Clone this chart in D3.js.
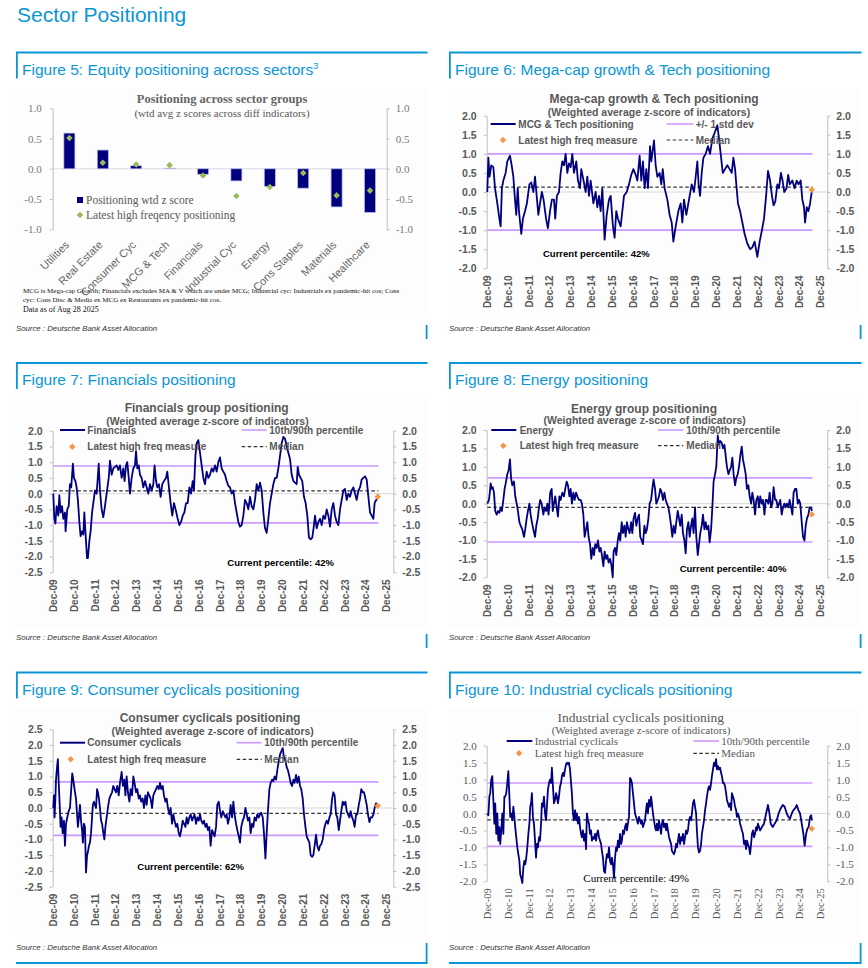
<!DOCTYPE html>
<html><head><meta charset="utf-8">
<script src="https://cdn.jsdelivr.net/npm/d3@7"></script>
<style>body{margin:0;background:#fff}svg{display:block}</style>
</head><body>
<svg id="c" width="868" height="968"></svg>
<script>
// ---------------- DATA ----------------
const sectorCats = ['Utilities','Real Estate','Consumer Cyc','MCG & Tech','Financials','Industrial Cyc','Energy','Cons Staples','Materials','Healthcare'];
const sectorZ  = [0.59, 0.31, 0.05, 0.01, -0.09, -0.20, -0.29, -0.32, -0.63, -0.72];
const sectorHF = [0.51, 0.10, 0.07, 0.06, -0.11, -0.45, -0.30, -0.07, -0.44, -0.36];
const fig5Ticks = [-1.0, -0.5, 0.0, 0.5, 1.0];

const yearTicks  = [2009.92,2010.92,2011.92,2012.92,2013.92,2014.92,2015.92,2016.92,2017.92,2018.92,2019.92,2020.92,2021.92,2022.92,2023.92,2024.92,2025.92];
const yearLabels = ['Dec-09','Dec-10','Dec-11','Dec-12','Dec-13','Dec-14','Dec-15','Dec-16','Dec-17','Dec-18','Dec-19','Dec-20','Dec-21','Dec-22','Dec-23','Dec-24','Dec-25'];

// [decimal year, weighted z-score]
const mcgTech = [[2009.92,0.0],[2009.97,0.9],[2010.03,0.4],[2010.11,0.7],[2010.21,0.65],[2010.29,0.1],[2010.40,-0.3],[2010.50,-0.7],[2010.56,-0.9],[2010.62,0.1],[2010.69,0.3],[2010.80,0.5],[2010.88,0.8],[2011.01,0.95],[2011.09,0.7],[2011.17,0.4],[2011.25,-0.2],[2011.31,-0.6],[2011.38,0.1],[2011.44,-0.5],[2011.55,-1.1],[2011.63,-0.7],[2011.73,-0.5],[2011.82,-0.3],[2011.94,0.2],[2012.03,0.25],[2012.13,0.0],[2012.21,0.4],[2012.29,-0.1],[2012.37,-0.6],[2012.45,-0.3],[2012.54,0.0],[2012.62,-0.2],[2012.74,-0.7],[2012.83,-0.95],[2012.93,-0.5],[2013.02,-0.2],[2013.12,-0.2],[2013.18,-0.7],[2013.26,-0.1],[2013.36,0.0],[2013.44,0.5],[2013.52,0.8],[2013.60,0.7],[2013.68,1.0],[2013.76,0.5],[2013.84,0.75],[2013.92,0.65],[2014.00,1.0],[2014.08,0.5],[2014.19,0.8],[2014.27,0.3],[2014.37,0.1],[2014.43,0.6],[2014.54,0.3],[2014.64,0.0],[2014.72,0.4],[2014.80,-0.1],[2014.88,0.3],[2015.01,-0.3],[2015.12,0.0],[2015.20,-0.4],[2015.28,-0.1],[2015.36,-0.5],[2015.44,0.1],[2015.55,-1.25],[2015.65,-0.6],[2015.76,-0.2],[2015.84,-0.1],[2015.95,-0.9],[2016.03,-1.2],[2016.11,-0.5],[2016.19,-0.7],[2016.32,-0.9],[2016.40,-0.5],[2016.48,-0.1],[2016.61,0.0],[2016.72,0.2],[2016.83,0.45],[2016.93,0.6],[2017.04,0.45],[2017.12,0.3],[2017.23,0.95],[2017.31,0.3],[2017.39,0.8],[2017.47,0.1],[2017.55,0.6],[2017.63,0.1],[2017.73,1.2],[2017.79,0.8],[2017.92,1.35],[2018.00,0.7],[2018.08,0.4],[2018.19,0.5],[2018.27,0.2],[2018.34,0.6],[2018.43,0.1],[2018.56,-0.2],[2018.67,-0.6],[2018.77,-0.8],[2018.85,-1.3],[2018.96,-0.9],[2019.09,-0.5],[2019.20,-0.3],[2019.28,-0.8],[2019.36,-0.2],[2019.47,-0.6],[2019.60,-0.2],[2019.73,0.2],[2019.84,0.0],[2019.92,0.4],[2020.00,0.8],[2020.06,0.2],[2020.13,-0.1],[2020.21,0.5],[2020.29,0.9],[2020.40,1.0],[2020.51,1.2],[2020.61,1.0],[2020.72,1.4],[2020.83,1.55],[2020.96,1.75],[2021.04,1.4],[2021.12,1.0],[2021.22,0.5],[2021.33,0.6],[2021.44,0.7],[2021.55,0.6],[2021.65,0.5],[2021.73,0.9],[2021.81,0.6],[2021.87,0.2],[2021.95,-0.3],[2022.05,-0.5],[2022.16,-0.8],[2022.27,-1.1],[2022.40,-1.35],[2022.53,-1.5],[2022.64,-1.45],[2022.75,-1.3],[2022.88,-1.7],[2022.99,-1.3],[2023.10,-1.0],[2023.20,-0.7],[2023.30,-0.1],[2023.39,0.55],[2023.49,0.3],[2023.58,-0.1],[2023.66,-0.35],[2023.74,-0.25],[2023.84,0.2],[2023.92,0.1],[2024.01,0.5],[2024.09,0.3],[2024.17,0.0],[2024.28,0.1],[2024.36,0.45],[2024.44,0.2],[2024.56,0.3],[2024.67,0.1],[2024.77,0.3],[2024.86,0.2],[2024.96,0.3],[2025.04,-0.2],[2025.12,-0.4],[2025.17,-0.8],[2025.25,-0.4],[2025.33,-0.5],[2025.41,-0.3],[2025.50,0.05]];

const financials = [[2009.92,0.0],[2009.97,-0.8],[2010.02,-0.95],[2010.08,-0.4],[2010.16,-0.7],[2010.21,-0.05],[2010.27,-0.6],[2010.34,-0.4],[2010.40,-0.8],[2010.48,-0.6],[2010.51,-1.2],[2010.59,-0.5],[2010.66,-0.4],[2010.72,0.3],[2010.78,0.2],[2010.86,0.95],[2010.91,0.5],[2010.98,0.4],[2011.04,0.2],[2011.10,-0.2],[2011.17,-0.9],[2011.23,-1.35],[2011.30,-1.2],[2011.36,-1.3],[2011.41,-0.6],[2011.46,-1.2],[2011.54,-2.05],[2011.58,-2.05],[2011.65,-1.5],[2011.71,-1.2],[2011.78,-0.6],[2011.84,-0.3],[2011.92,0.1],[2012.00,0.0],[2012.10,0.95],[2012.16,0.1],[2012.24,-0.5],[2012.32,-0.75],[2012.40,-0.4],[2012.48,0.0],[2012.58,0.5],[2012.64,1.05],[2012.72,0.6],[2012.80,0.8],[2012.88,0.85],[2012.96,0.9],[2013.04,0.75],[2013.12,0.9],[2013.20,0.5],[2013.28,0.8],[2013.34,0.4],[2013.41,0.9],[2013.47,1.0],[2013.54,0.5],[2013.60,0.0],[2013.68,0.5],[2013.76,0.8],[2013.84,0.9],[2013.89,1.35],[2013.95,0.8],[2014.02,0.9],[2014.08,0.6],[2014.16,0.5],[2014.24,0.2],[2014.32,0.4],[2014.40,0.2],[2014.48,0.0],[2014.56,0.3],[2014.64,0.1],[2014.72,0.3],[2014.78,0.9],[2014.85,0.4],[2014.91,0.2],[2014.99,0.3],[2015.07,-0.1],[2015.15,0.3],[2015.23,0.4],[2015.33,0.5],[2015.39,0.7],[2015.47,0.2],[2015.55,-0.3],[2015.63,-0.7],[2015.71,-0.3],[2015.79,-0.5],[2015.89,-0.8],[2015.97,-1.0],[2016.05,-0.9],[2016.13,-0.7],[2016.21,-0.6],[2016.29,-0.3],[2016.37,-0.3],[2016.45,0.2],[2016.53,0.0],[2016.61,0.4],[2016.67,0.1],[2016.74,1.2],[2016.80,1.6],[2016.88,1.7],[2016.96,1.3],[2017.04,0.9],[2017.12,0.5],[2017.20,0.3],[2017.28,0.7],[2017.36,0.5],[2017.44,0.6],[2017.52,0.8],[2017.60,0.7],[2017.68,0.9],[2017.76,0.7],[2017.84,1.0],[2017.92,1.15],[2018.00,0.8],[2018.08,0.7],[2018.16,0.6],[2018.24,0.4],[2018.32,0.25],[2018.40,0.2],[2018.48,0.0],[2018.56,0.1],[2018.64,-0.3],[2018.72,-0.6],[2018.80,-0.9],[2018.88,-1.05],[2018.96,-1.0],[2019.04,-0.7],[2019.12,-0.2],[2019.20,-0.3],[2019.28,-0.5],[2019.36,-0.1],[2019.44,-0.4],[2019.52,-0.5],[2019.60,-0.2],[2019.68,0.3],[2019.76,0.1],[2019.84,0.35],[2019.92,0.1],[2020.00,-0.6],[2020.08,-1.1],[2020.16,-1.25],[2020.24,-0.8],[2020.32,-0.3],[2020.40,0.0],[2020.48,0.3],[2020.56,0.5],[2020.64,0.5],[2020.72,0.8],[2020.80,1.2],[2020.88,1.6],[2020.96,1.8],[2021.04,1.75],[2021.12,1.5],[2021.20,1.3],[2021.28,1.1],[2021.36,0.6],[2021.44,0.4],[2021.52,0.35],[2021.60,0.3],[2021.65,0.85],[2021.71,0.6],[2021.79,0.5],[2021.87,0.4],[2021.95,-0.1],[2022.03,-0.3],[2022.11,-0.7],[2022.19,-1.4],[2022.27,-1.45],[2022.35,-1.4],[2022.43,-1.0],[2022.48,-0.7],[2022.56,-1.1],[2022.64,-0.9],[2022.72,-0.8],[2022.80,-1.0],[2022.88,-0.7],[2022.96,-0.8],[2023.04,-0.5],[2023.12,-0.7],[2023.20,-1.05],[2023.28,-0.5],[2023.36,-0.3],[2023.44,-0.7],[2023.52,-0.9],[2023.60,-1.0],[2023.68,-0.5],[2023.76,-0.2],[2023.84,0.1],[2023.92,0.15],[2024.00,-0.2],[2024.08,0.0],[2024.16,-0.1],[2024.24,0.1],[2024.32,0.2],[2024.40,0.0],[2024.48,-0.2],[2024.56,0.1],[2024.64,0.2],[2024.72,0.45],[2024.80,0.5],[2024.88,0.55],[2024.96,0.45],[2025.04,-0.1],[2025.12,-0.6],[2025.20,-0.7],[2025.28,-0.8],[2025.34,-0.3],[2025.41,-0.2],[2025.47,-0.2]];

const energy = [[2009.92,0.0],[2010.00,0.1],[2010.05,0.35],[2010.08,0.55],[2010.13,0.4],[2010.18,0.45],[2010.24,0.3],[2010.30,-0.2],[2010.37,-0.3],[2010.43,-0.2],[2010.50,-0.25],[2010.56,-0.1],[2010.62,-0.2],[2010.69,0.1],[2010.75,0.4],[2010.82,0.6],[2010.88,0.8],[2010.94,0.9],[2011.01,1.2],[2011.06,0.7],[2011.12,0.5],[2011.20,0.6],[2011.26,0.2],[2011.33,0.0],[2011.39,-0.2],[2011.46,-0.5],[2011.52,-0.6],[2011.60,-0.7],[2011.68,-0.9],[2011.74,-0.7],[2011.81,-0.4],[2011.87,-0.2],[2011.94,0.0],[2012.00,-0.3],[2012.06,-0.5],[2012.13,-0.7],[2012.21,-0.9],[2012.27,-0.6],[2012.34,-0.4],[2012.40,-0.1],[2012.46,0.1],[2012.53,0.0],[2012.61,-0.3],[2012.67,-0.1],[2012.74,-0.2],[2012.80,0.0],[2012.86,-0.3],[2012.94,0.3],[2013.01,0.4],[2013.06,-0.2],[2013.12,0.0],[2013.18,0.2],[2013.25,-0.1],[2013.31,-0.35],[2013.38,0.2],[2013.44,0.1],[2013.52,0.3],[2013.60,0.2],[2013.66,0.4],[2013.73,0.6],[2013.79,0.5],[2013.86,0.2],[2013.92,0.4],[2013.98,0.0],[2014.05,0.3],[2014.11,0.1],[2014.18,0.3],[2014.24,0.2],[2014.32,0.1],[2014.40,0.1],[2014.46,0.0],[2014.53,-0.3],[2014.59,-0.9],[2014.66,-0.7],[2014.72,-0.5],[2014.78,-0.9],[2014.85,-1.1],[2014.91,-1.5],[2014.98,-1.2],[2015.04,-1.4],[2015.10,-1.1],[2015.17,-1.2],[2015.23,-1.0],[2015.30,-1.3],[2015.36,-1.2],[2015.42,-1.4],[2015.49,-1.7],[2015.55,-1.3],[2015.62,-1.5],[2015.68,-1.4],[2015.74,-1.6],[2015.81,-1.5],[2015.87,-1.65],[2015.94,-2.0],[2015.98,-1.3],[2016.05,-1.2],[2016.11,-1.4],[2016.18,-1.0],[2016.24,-0.8],[2016.30,-1.0],[2016.37,-0.5],[2016.43,-0.8],[2016.50,-0.6],[2016.56,-0.9],[2016.62,-0.5],[2016.69,-0.7],[2016.75,-0.8],[2016.82,-0.5],[2016.88,-0.8],[2016.94,-0.4],[2017.01,-0.25],[2017.07,-0.6],[2017.14,-0.4],[2017.20,-0.3],[2017.26,-0.9],[2017.33,-1.0],[2017.39,-1.1],[2017.46,-0.6],[2017.52,-0.8],[2017.58,-0.7],[2017.65,-0.4],[2017.71,0.0],[2017.78,0.1],[2017.84,0.4],[2017.90,0.65],[2017.97,0.4],[2018.03,0.0],[2018.10,0.1],[2018.16,0.2],[2018.22,0.4],[2018.29,0.3],[2018.35,0.1],[2018.42,0.3],[2018.48,0.1],[2018.54,0.0],[2018.61,-0.1],[2018.67,-0.3],[2018.74,-0.6],[2018.80,-0.9],[2018.86,-0.6],[2018.93,-0.8],[2018.99,-0.5],[2019.06,-0.2],[2019.12,-0.4],[2019.18,-0.6],[2019.25,-0.3],[2019.31,-0.8],[2019.38,-1.0],[2019.44,-1.35],[2019.50,-0.7],[2019.57,-0.5],[2019.63,-0.9],[2019.70,-0.6],[2019.76,-0.4],[2019.82,-0.8],[2019.89,-0.1],[2019.95,-0.9],[2020.02,-1.4],[2020.08,-1.1],[2020.14,-0.8],[2020.21,-0.6],[2020.27,-0.3],[2020.34,-0.7],[2020.40,-0.5],[2020.46,-0.7],[2020.53,-0.6],[2020.59,-1.05],[2020.66,-0.7],[2020.72,-0.1],[2020.78,0.6],[2020.85,0.8],[2020.91,1.0],[2020.98,1.85],[2021.04,1.6],[2021.10,1.7],[2021.17,1.65],[2021.23,1.5],[2021.30,1.6],[2021.36,1.3],[2021.42,1.0],[2021.49,0.8],[2021.55,0.9],[2021.62,1.0],[2021.68,1.25],[2021.74,0.8],[2021.81,0.5],[2021.87,0.7],[2021.94,0.8],[2022.00,1.0],[2022.06,1.3],[2022.13,1.55],[2022.19,1.2],[2022.26,1.0],[2022.32,0.8],[2022.38,0.4],[2022.45,0.5],[2022.51,0.2],[2022.58,0.0],[2022.64,0.3],[2022.70,0.1],[2022.77,-0.3],[2022.83,0.1],[2022.90,0.2],[2022.96,-0.1],[2023.02,0.2],[2023.09,0.0],[2023.15,0.1],[2023.22,-0.3],[2023.28,0.1],[2023.34,0.1],[2023.41,0.0],[2023.47,0.3],[2023.54,-0.1],[2023.60,0.0],[2023.66,0.45],[2023.73,0.1],[2023.79,0.1],[2023.86,-0.1],[2023.92,0.0],[2023.98,0.1],[2024.05,-0.3],[2024.11,-0.1],[2024.18,0.0],[2024.24,-0.1],[2024.30,0.0],[2024.37,-0.1],[2024.43,0.1],[2024.50,-0.1],[2024.56,-0.3],[2024.62,0.3],[2024.69,0.4],[2024.75,0.4],[2024.82,0.0],[2024.88,0.1],[2024.94,0.0],[2025.01,-0.5],[2025.07,-0.9],[2025.14,-1.0],[2025.20,-0.6],[2025.26,-0.4],[2025.33,-0.3],[2025.39,-0.1],[2025.46,-0.1],[2025.50,-0.2]];

const consumerCyc = [[2009.92,0.0],[2009.95,0.4],[2009.98,-0.3],[2010.02,0.3],[2010.05,0.9],[2010.10,1.3],[2010.14,1.55],[2010.18,0.8],[2010.22,0.2],[2010.27,-0.6],[2010.32,-0.3],[2010.37,-0.8],[2010.43,-0.4],[2010.48,-1.2],[2010.53,-0.5],[2010.59,-0.3],[2010.66,-0.1],[2010.72,0.0],[2010.78,0.6],[2010.83,1.1],[2010.90,0.8],[2010.96,0.5],[2011.01,0.3],[2011.06,-0.2],[2011.10,-0.6],[2011.15,-0.3],[2011.20,0.1],[2011.25,-0.4],[2011.30,-0.7],[2011.34,-1.1],[2011.39,-0.5],[2011.44,-0.6],[2011.49,-2.05],[2011.54,-1.5],[2011.58,-1.4],[2011.63,-1.2],[2011.68,-1.1],[2011.73,-0.8],[2011.78,-0.3],[2011.82,0.1],[2011.87,0.2],[2011.92,0.1],[2011.97,0.0],[2012.02,0.6],[2012.06,0.5],[2012.11,0.3],[2012.16,0.0],[2012.21,-0.4],[2012.26,-0.5],[2012.30,-0.7],[2012.37,-1.0],[2012.42,-0.6],[2012.48,-0.3],[2012.54,0.0],[2012.61,0.3],[2012.67,0.4],[2012.74,0.5],[2012.80,0.7],[2012.86,0.6],[2012.93,0.5],[2012.99,0.7],[2013.06,0.4],[2013.12,0.8],[2013.20,1.15],[2013.26,0.7],[2013.33,0.9],[2013.38,0.4],[2013.44,1.0],[2013.50,0.5],[2013.57,0.2],[2013.63,0.6],[2013.70,0.4],[2013.76,1.0],[2013.82,0.8],[2013.89,0.5],[2013.95,0.6],[2014.02,0.3],[2014.08,0.4],[2014.14,0.2],[2014.21,0.3],[2014.27,0.0],[2014.34,0.4],[2014.40,0.1],[2014.46,0.5],[2014.53,0.4],[2014.59,0.3],[2014.66,0.0],[2014.72,0.4],[2014.78,0.5],[2014.85,0.6],[2014.91,0.7],[2014.98,0.6],[2015.04,0.8],[2015.10,0.6],[2015.17,0.7],[2015.23,0.4],[2015.30,0.2],[2015.36,0.3],[2015.42,0.0],[2015.49,-0.2],[2015.55,0.0],[2015.62,-0.5],[2015.68,-0.2],[2015.74,-0.4],[2015.81,-0.6],[2015.87,-0.5],[2015.94,-0.8],[2016.00,-0.9],[2016.06,-0.7],[2016.13,-0.4],[2016.19,-0.5],[2016.26,-0.6],[2016.32,-0.3],[2016.38,-0.5],[2016.45,-0.3],[2016.51,-0.2],[2016.58,-0.4],[2016.64,-0.3],[2016.70,-0.2],[2016.77,-0.5],[2016.83,-0.3],[2016.90,-0.4],[2016.96,-0.2],[2017.02,-0.4],[2017.09,-0.5],[2017.15,-0.4],[2017.22,-0.6],[2017.28,-0.5],[2017.34,-0.7],[2017.41,-0.6],[2017.47,-1.2],[2017.54,-0.7],[2017.60,-0.8],[2017.66,-0.9],[2017.73,-0.6],[2017.79,0.1],[2017.86,0.2],[2017.92,-0.1],[2017.98,-0.3],[2018.05,-0.1],[2018.11,-0.2],[2018.18,-0.3],[2018.24,-0.2],[2018.30,-0.5],[2018.37,-0.3],[2018.43,0.1],[2018.50,-0.3],[2018.56,0.2],[2018.62,-0.2],[2018.69,-0.5],[2018.75,-0.7],[2018.82,-0.9],[2018.88,-1.1],[2018.94,-0.6],[2019.01,-0.4],[2019.07,-0.3],[2019.14,0.0],[2019.20,-0.2],[2019.26,-0.4],[2019.33,-0.3],[2019.39,-0.8],[2019.46,-0.5],[2019.52,-0.6],[2019.58,-0.3],[2019.65,-0.4],[2019.71,-0.2],[2019.78,-0.3],[2019.84,-0.2],[2019.90,-0.15],[2019.97,-0.3],[2020.03,-0.8],[2020.10,-1.6],[2020.16,-0.8],[2020.22,-0.1],[2020.29,0.6],[2020.35,0.8],[2020.42,0.9],[2020.48,0.85],[2020.54,1.0],[2020.61,0.9],[2020.67,1.2],[2020.74,1.5],[2020.80,1.7],[2020.86,1.8],[2020.93,1.9],[2020.99,1.6],[2021.06,1.5],[2021.12,1.3],[2021.18,1.2],[2021.25,1.0],[2021.31,0.8],[2021.38,0.7],[2021.44,0.9],[2021.50,0.8],[2021.57,1.05],[2021.63,0.8],[2021.70,1.0],[2021.76,0.7],[2021.82,0.6],[2021.89,0.3],[2021.95,-0.2],[2022.02,-0.6],[2022.08,-0.9],[2022.14,-1.0],[2022.21,-1.1],[2022.27,-1.5],[2022.34,-1.55],[2022.40,-1.5],[2022.46,-1.2],[2022.53,-0.85],[2022.59,-1.2],[2022.66,-1.35],[2022.72,-1.2],[2022.78,-1.15],[2022.85,-1.0],[2022.91,-0.7],[2022.98,-0.5],[2023.04,-0.4],[2023.10,-0.5],[2023.17,-0.3],[2023.23,-0.2],[2023.30,0.3],[2023.36,0.5],[2023.42,0.4],[2023.49,-0.2],[2023.55,-0.3],[2023.62,-0.7],[2023.68,-0.4],[2023.74,-0.1],[2023.81,0.2],[2023.87,0.1],[2023.94,0.2],[2024.00,-0.1],[2024.06,-0.2],[2024.13,-0.3],[2024.19,-0.1],[2024.26,-0.3],[2024.32,-0.4],[2024.38,-0.6],[2024.45,-0.2],[2024.51,-0.2],[2024.58,0.1],[2024.64,0.3],[2024.70,0.6],[2024.77,0.5],[2024.83,0.5],[2024.90,0.3],[2024.96,0.1],[2025.02,-0.2],[2025.09,-0.45],[2025.15,-0.3],[2025.22,-0.3],[2025.28,-0.2],[2025.34,0.0],[2025.41,0.15],[2025.47,0.1]];

const industrialCyc = [[2009.92,0.0],[2009.97,-0.05],[2010.02,0.5],[2010.06,0.6],[2010.11,1.0],[2010.16,1.1],[2010.21,0.4],[2010.26,-0.3],[2010.30,0.3],[2010.35,-0.6],[2010.40,0.0],[2010.45,-0.8],[2010.50,-0.4],[2010.54,-0.9],[2010.59,-0.5],[2010.64,0.0],[2010.69,-0.6],[2010.74,0.5],[2010.78,0.5],[2010.83,0.6],[2010.88,0.9],[2010.93,1.25],[2010.98,0.5],[2011.02,-0.1],[2011.07,0.0],[2011.12,-0.2],[2011.17,0.2],[2011.22,-0.1],[2011.26,-0.4],[2011.31,-0.7],[2011.36,-1.0],[2011.41,-1.2],[2011.46,-1.4],[2011.50,-1.8],[2011.55,-1.9],[2011.60,-2.05],[2011.65,-1.6],[2011.70,-1.4],[2011.74,-1.5],[2011.79,-1.3],[2011.84,-1.0],[2011.89,-0.6],[2011.94,-0.3],[2011.98,0.2],[2012.03,0.35],[2012.06,0.6],[2012.11,-0.1],[2012.16,-0.3],[2012.21,-0.8],[2012.26,-1.3],[2012.30,-0.9],[2012.35,-1.0],[2012.40,-0.7],[2012.45,-0.8],[2012.50,-0.3],[2012.54,0.3],[2012.59,0.2],[2012.64,0.5],[2012.69,0.0],[2012.74,-0.2],[2012.78,0.2],[2012.83,0.7],[2012.88,0.9],[2012.93,1.0],[2012.98,0.9],[2013.02,1.35],[2013.07,0.8],[2013.12,0.3],[2013.17,0.4],[2013.22,0.6],[2013.26,0.5],[2013.31,0.3],[2013.36,0.5],[2013.41,0.8],[2013.46,0.9],[2013.50,1.1],[2013.55,1.2],[2013.60,1.1],[2013.65,1.3],[2013.70,1.45],[2013.74,1.5],[2013.79,1.45],[2013.84,1.5],[2013.89,1.3],[2013.94,0.9],[2013.98,0.6],[2014.03,0.0],[2014.08,-0.2],[2014.13,0.1],[2014.18,-0.2],[2014.22,0.0],[2014.27,-0.3],[2014.32,-0.1],[2014.37,-0.4],[2014.42,-0.6],[2014.46,-0.7],[2014.51,-0.5],[2014.56,-0.8],[2014.61,-0.6],[2014.66,-1.05],[2014.70,0.0],[2014.75,-0.2],[2014.80,-0.3],[2014.85,-0.6],[2014.90,-0.5],[2014.94,-0.8],[2014.99,-0.7],[2015.04,-0.75],[2015.09,-0.6],[2015.14,-0.8],[2015.18,-0.6],[2015.23,-0.5],[2015.28,-0.7],[2015.33,-0.8],[2015.38,-0.9],[2015.42,-1.1],[2015.47,-1.3],[2015.52,-1.7],[2015.57,-1.75],[2015.62,-1.4],[2015.66,-1.2],[2015.71,-1.3],[2015.76,-1.0],[2015.81,-1.4],[2015.86,-1.5],[2015.90,-1.3],[2015.95,-1.5],[2016.00,-1.9],[2016.05,-1.3],[2016.10,-1.0],[2016.14,-1.1],[2016.19,-0.8],[2016.24,-1.0],[2016.29,-0.6],[2016.34,-0.9],[2016.38,-0.8],[2016.43,-0.5],[2016.48,-0.6],[2016.53,-0.4],[2016.58,-0.3],[2016.62,-0.5],[2016.67,-0.3],[2016.72,-0.1],[2016.77,1.05],[2016.82,1.0],[2016.86,0.9],[2016.91,0.6],[2016.96,0.3],[2017.01,0.0],[2017.06,-0.1],[2017.10,-0.2],[2017.15,-0.3],[2017.20,-0.1],[2017.25,-0.2],[2017.30,-0.3],[2017.34,-0.2],[2017.39,-0.4],[2017.44,-0.3],[2017.49,-0.2],[2017.54,0.1],[2017.58,0.3],[2017.63,0.0],[2017.68,0.4],[2017.73,0.2],[2017.78,0.5],[2017.82,0.3],[2017.87,0.0],[2017.92,-0.2],[2017.97,-0.4],[2018.02,-0.5],[2018.06,-0.3],[2018.11,-0.5],[2018.16,-0.2],[2018.21,-0.4],[2018.26,-0.6],[2018.30,-0.3],[2018.35,-0.2],[2018.40,-0.4],[2018.45,-0.3],[2018.50,-0.5],[2018.54,-0.3],[2018.59,-0.5],[2018.64,-0.7],[2018.69,-0.8],[2018.74,-0.9],[2018.78,-1.1],[2018.83,-1.15],[2018.88,-1.2],[2018.93,-1.1],[2018.98,-0.9],[2019.02,-1.0],[2019.07,-0.8],[2019.12,-0.6],[2019.17,-0.9],[2019.22,-0.7],[2019.26,-0.8],[2019.31,-0.6],[2019.36,-0.9],[2019.41,-0.7],[2019.46,-0.5],[2019.50,-0.6],[2019.55,-0.5],[2019.60,-0.2],[2019.65,-0.1],[2019.70,-0.2],[2019.74,0.0],[2019.79,0.3],[2019.84,0.4],[2019.89,0.2],[2019.94,0.0],[2019.98,-0.5],[2020.03,-1.0],[2020.08,-1.15],[2020.13,-1.1],[2020.18,-0.9],[2020.22,-0.6],[2020.27,-0.4],[2020.32,-0.2],[2020.37,0.1],[2020.42,0.3],[2020.46,0.5],[2020.51,0.7],[2020.56,0.8],[2020.61,0.7],[2020.66,0.9],[2020.70,1.1],[2020.75,1.3],[2020.80,1.5],[2020.85,1.4],[2020.90,1.6],[2020.94,1.3],[2020.99,1.4],[2021.04,1.3],[2021.09,1.35],[2021.14,1.2],[2021.18,1.1],[2021.23,0.9],[2021.28,0.9],[2021.33,0.8],[2021.38,0.6],[2021.42,0.4],[2021.47,0.3],[2021.52,0.2],[2021.57,0.3],[2021.62,0.1],[2021.66,0.6],[2021.71,0.5],[2021.76,0.4],[2021.81,0.2],[2021.86,0.1],[2021.90,-0.1],[2021.95,0.0],[2022.00,-0.1],[2022.05,-0.3],[2022.10,-0.4],[2022.14,-0.5],[2022.19,-0.6],[2022.24,-0.9],[2022.29,-0.8],[2022.34,-1.05],[2022.38,-0.8],[2022.43,-0.9],[2022.48,-1.0],[2022.53,-1.2],[2022.58,-0.9],[2022.62,-0.6],[2022.67,-0.5],[2022.72,-0.7],[2022.77,-0.6],[2022.82,-0.4],[2022.86,-0.5],[2022.91,-0.3],[2023.01,-0.5],[2023.10,-0.4],[2023.20,-0.3],[2023.30,0.0],[2023.39,0.25],[2023.46,0.0],[2023.52,-0.3],[2023.62,-0.4],[2023.71,-0.3],[2023.81,-0.2],[2023.90,0.0],[2024.00,0.15],[2024.10,0.25],[2024.19,0.2],[2024.29,0.0],[2024.37,-0.1],[2024.45,-0.15],[2024.53,0.0],[2024.61,0.1],[2024.69,0.15],[2024.77,0.25],[2024.85,0.1],[2024.93,0.0],[2025.01,-0.3],[2025.09,-0.6],[2025.15,-0.95],[2025.22,-0.6],[2025.28,-0.45],[2025.34,-0.4],[2025.41,-0.1],[2025.46,-0.05],[2025.50,-0.2]];

// reference levels: [upper band, lower band], median, latest high-freq point
const mcgBands = [1.0, -1.0],  mcgMedian = 0.13,  mcgLatest = [2025.49, 0.06];
const finBands = [0.88, -0.93], finMedian = 0.09,  finLatest = [2025.49, -0.10];
const enBands  = [0.70, -1.04], enMedian  = -0.10, enLatest  = [2025.49, -0.29];
const ccBands  = [0.83, -0.87], ccMedian  = -0.17, ccLatest  = [2025.49, 0.07];
const icBands  = [0.90, -0.97], icMedian  = -0.19, icLatest  = [2025.49, -0.45];

// ---------------- DRAWING ----------------
const svg = d3.select('#c');
const BLUE = '#0a96d6', GRAY = '#595959', AXIS = '#bfbfbf', NAVY = '#00007f',
      PURPLE = '#cc99ff', ORANGE = '#f79646', GREEN = '#9bbb59';
const SANS = "'Liberation Sans', Arial, Helvetica, sans-serif";
const SERIF = "'Liberation Serif', 'Times New Roman', serif";

function txt(g, x, y, s, o = {}) {
  const t = g.append('text').attr('x', x).attr('y', y).text(s)
    .style('font-family', o.font || SANS).style('font-size', (o.size || 10) + 'px')
    .style('font-weight', o.weight || 'normal').attr('fill', o.fill || GRAY)
    .attr('text-anchor', o.anchor || 'start');
  if (o.italic) t.style('font-style', 'italic');
  return t;
}

function diamond(g, cx, cy, r, fill) {
  g.append('path').attr('d', d3.symbol(d3.symbolSquare, 2 * r * r)())
    .attr('transform', `translate(${cx},${cy}) rotate(45)`).attr('fill', fill);
}

// faint chart-area backgrounds
[[15, 88], [448, 88], [15, 398], [448, 398], [15, 707], [448, 707]].forEach(([bx, by]) =>
  svg.append('rect').attr('x', bx).attr('y', by).attr('width', 412).attr('height', 230).attr('fill', '#fdfdfd'));

// page title
txt(svg, 17, 22, 'Sector Positioning', {size: 21, fill: BLUE});

function frame(x0, x1, yTop, title, srcY, last, sup) {
  const g = svg.append('g');
  g.append('line').attr('x1', x0).attr('x2', x1).attr('y1', yTop).attr('y2', yTop).attr('stroke', BLUE).attr('stroke-width', 1.8);
  g.append('line').attr('x1', x0 + 0.9).attr('x2', x0 + 0.9).attr('y1', yTop).attr('y2', yTop + 26).attr('stroke', BLUE).attr('stroke-width', 1.8);
  const t = txt(g, x0 + 6, yTop + 22, title, {size: 15.5, fill: BLUE});
  if (sup) t.append('tspan').text(sup).style('font-size', '9px').attr('dy', -6);
  txt(g, x0, srcY, 'Source : Deutsche Bank Asset Allocation', {size: 7.8, fill: '#333', italic: true});
  if (last) {
    g.append('line').attr('x1', x1 - 0.9).attr('x2', x1 - 0.9).attr('y1', srcY - 7).attr('y2', srcY + 13).attr('stroke', BLUE).attr('stroke-width', 1.8);
    g.append('line').attr('x1', x0).attr('x2', x1).attr('y1', srcY + 13).attr('y2', srcY + 13).attr('stroke', BLUE).attr('stroke-width', 1.8);
  } else {
    g.append('line').attr('x1', x1 - 0.9).attr('x2', x1 - 0.9).attr('y1', srcY - 6).attr('y2', srcY + 8).attr('stroke', BLUE).attr('stroke-width', 1.8);
  }
}

frame(16, 427.5, 52.5, 'Figure 5: Equity positioning across sectors', 331, false, '3');
frame(449, 861.5, 52.5, 'Figure 6: Mega-cap growth & Tech positioning', 331, false);
frame(16, 427.5, 363, 'Figure 7: Financials positioning', 640, false);
frame(449, 861.5, 363, 'Figure 8: Energy positioning', 640, false);
frame(16, 427.5, 672.5, 'Figure 9: Consumer cyclicals positioning', 950, true);
frame(449, 861.5, 672.5, 'Figure 10: Industrial cyclicals positioning', 950, true);

// ---------- Figure 5 : bar chart ----------
(function () {
  const g = svg.append('g');
  const L = 52.7, R = 386.7;
  const x = d3.scaleBand().domain(sectorCats).range([L, R]).paddingInner(0.67).paddingOuter(0.335);
  const y = d3.scaleLinear().domain([-1, 1]).range([229.3, 108.3]);
  const fmt = d => d.toFixed(1);
  txt(g, 222, 102.5, 'Positioning across sector groups', {font: SERIF, size: 12.5, weight: 'bold', anchor: 'middle', fill: '#666'});
  txt(g, 222, 116.5, '(wtd avg z scores across diff indicators)', {font: SERIF, size: 11, anchor: 'middle'});
  g.append('line').attr('x1', L).attr('x2', R).attr('y1', y(0)).attr('y2', y(0)).attr('stroke', '#d9d9e6');
  const la = g.append('g').attr('transform', `translate(${L},0)`).call(d3.axisLeft(y).tickValues(fig5Ticks).tickFormat(fmt).tickSize(3).tickSizeOuter(0).tickPadding(8));
  const ra = g.append('g').attr('transform', `translate(${R},0)`).call(d3.axisRight(y).tickValues(fig5Ticks).tickFormat(fmt).tickSize(3).tickSizeOuter(0).tickPadding(6));
  [la, ra].forEach(a => {
    a.select('.domain').attr('stroke', AXIS);
    a.selectAll('.tick line').attr('stroke', AXIS);
    a.selectAll('text').attr('fill', '#7a7a7a').style('font-family', SERIF).style('font-size', '11px');
  });
  g.selectAll('.bar').data(sectorZ).join('rect')
    .attr('x', (d, i) => x(sectorCats[i])).attr('width', x.bandwidth())
    .attr('y', d => y(Math.max(0, d))).attr('height', d => Math.max(0.6, Math.abs(y(d) - y(0))))
    .attr('fill', NAVY).attr('stroke', '#b8b8e8').attr('stroke-width', 0.7);
  sectorHF.forEach((d, i) => diamond(g, x(sectorCats[i]) + x.bandwidth() / 2, y(d), 3.3, GREEN));
  sectorCats.forEach(c => {
    g.append('text').attr('transform', `translate(${x(c) + x.bandwidth() / 2 + 0.5},${245.5}) rotate(-45)`)
      .attr('text-anchor', 'end').text(c).attr('fill', '#666')
      .style('font-family', SANS).style('font-size', '11px');
  });
  g.append('rect').attr('x', 77).attr('y', 197).attr('width', 6).attr('height', 6).attr('fill', NAVY);
  txt(g, 86, 204, 'Positioning wtd z score', {font: SERIF, size: 11.5});
  diamond(g, 80, 215, 3.3, GREEN);
  txt(g, 86, 219, 'Latest high freqency positioning', {font: SERIF, size: 11.5});
  txt(g, 23, 293, 'MCG is Mega-cap Growth; Financials excludes MA & V which are under MCG;  Industrial cyc: Industrials ex pandemic-hit cos; Cons', {font: SERIF, size: 7, fill: '#111'});
  txt(g, 23, 302, 'cyc: Cons Disc & Media ex MCG ex Restaurants ex pandemic-hit cos.', {font: SERIF, size: 7, fill: '#111'});
  txt(g, 23, 312, 'Data as of Aug 28 2025', {font: SERIF, size: 8, fill: '#111'});
})();

// ---------- time series charts ----------
function tsChart(o) {
  const font = o.serif ? SERIF : SANS, fw = o.serif ? 'normal' : 'bold';
  const g = svg.append('g');
  const x = d3.scaleLinear().domain([yearTicks[0], yearTicks[yearTicks.length - 1]]).range([o.left + 0.6, o.right - 6.6]);
  const y = d3.scaleLinear().domain(o.yDomain).range([o.bottom, o.top]);
  const tv = d3.range(Math.round(o.yDomain[0] * 2), Math.round(o.yDomain[1] * 2) + 1).map(k => k / 2);
  const fmt = d => d.toFixed(1);

  g.append('line').attr('x1', o.left).attr('x2', o.right).attr('y1', y(0)).attr('y2', y(0)).attr('stroke', '#d9d9d9');
  const la = g.append('g').attr('transform', `translate(${o.left},0)`).call(d3.axisLeft(y).tickValues(tv).tickFormat(fmt).tickSize(3).tickSizeOuter(0).tickPadding(7));
  const ra = g.append('g').attr('transform', `translate(${o.right},0)`).call(d3.axisRight(y).tickValues(tv).tickFormat(fmt).tickSize(3).tickSizeOuter(0).tickPadding(6));
  [la, ra].forEach(a => {
    a.select('.domain').attr('stroke', AXIS);
    a.selectAll('.tick line').attr('stroke', AXIS);
    a.selectAll('text').attr('fill', GRAY).style('font-family', font).style('font-weight', fw).style('font-size', o.tickFont + 'px');
  });
  yearTicks.forEach((t, i) => {
    g.append('text').attr('transform', `translate(${x(t) + 3.6},${o.bottom + 7}) rotate(-90)`)
      .attr('text-anchor', 'end').text(yearLabels[i]).attr('fill', GRAY)
      .style('font-family', font).style('font-weight', fw).style('font-size', o.xFont + 'px');
  });

  const t0 = o.data[0][0], t1 = o.latest[0] + 0.03;
  o.bands.forEach(b => g.append('line').attr('x1', x(t0)).attr('x2', x(t1)).attr('y1', y(b)).attr('y2', y(b)).attr('stroke', PURPLE).attr('stroke-width', 1.6));
  g.append('line').attr('x1', x(t0)).attr('x2', x(t1)).attr('y1', y(o.median)).attr('y2', y(o.median))
    .attr('stroke', '#333').attr('stroke-width', 1.2).attr('stroke-dasharray', '3.5,2.5');
  const line = d3.line().x(d => x(d[0])).y(d => y(d[1]));
  g.append('path').attr('d', line(o.data)).attr('fill', 'none').attr('stroke', NAVY).attr('stroke-width', 1.8).attr('stroke-linejoin', 'round');
  diamond(g, x(o.latest[0]), y(o.latest[1]), 3.2, ORANGE);

  // titles
  txt(g, o.titleX, o.titleY, o.title, {font, size: o.titleSize, weight: o.serif ? 'normal' : 'bold', anchor: 'middle'});
  txt(g, o.subX, o.subY, '(Weighted average z-score of indicators)', {font, size: o.subSize, weight: fw, anchor: 'middle'});

  // legend
  const lg = o.legend, lb = lg.base;
  g.append('line').attr('x1', lg.lineX[0]).attr('x2', lg.lineX[1]).attr('y1', lg.y1).attr('y2', lg.y1).attr('stroke', NAVY).attr('stroke-width', 2);
  txt(g, lg.textX, lg.y1 + lb, o.seriesName, {font, size: o.legFont, weight: fw});
  g.append('line').attr('x1', lg.pX[0]).attr('x2', lg.pX[1]).attr('y1', lg.y1).attr('y2', lg.y1).attr('stroke', PURPLE).attr('stroke-width', 1.6);
  txt(g, lg.pTextX, lg.y1 + lb, o.bandName, {font, size: o.legFont, weight: fw});
  diamond(g, lg.dX, lg.y2, 3.2, ORANGE);
  txt(g, lg.textX, lg.y2 + lb, 'Latest high freq measure', {font, size: o.legFont, weight: fw});
  g.append('line').attr('x1', lg.pX[0]).attr('x2', lg.pX[1]).attr('y1', lg.y2).attr('y2', lg.y2).attr('stroke', '#333').attr('stroke-width', 1.2).attr('stroke-dasharray', '3.5,2.5');
  txt(g, lg.pTextX, lg.y2 + lb, 'Median', {font, size: o.legFont, weight: fw});

  txt(g, o.pct[0], o.pct[1], o.pctText, {font, size: o.pctFont, weight: fw, fill: '#000'});
}

tsChart({
  left: 486.7, right: 827.3, top: 115.7, bottom: 268.3, yDomain: [-2, 2],
  data: mcgTech, bands: mcgBands, median: mcgMedian, latest: mcgLatest,
  title: 'Mega-cap growth & Tech positioning', titleX: 654, titleY: 103.3, titleSize: 12,
  subX: 649, subY: 115.7, subSize: 10.5, tickFont: 10.5, xFont: 10, legFont: 10, pctFont: 9.5,
  seriesName: 'MCG & Tech positioning', bandName: '+/- 1 std dev',
  legend: {lineX: [490.7, 515.7], y1: 124, textX: 518.3, pX: [666.7, 693.3], pTextX: 695.7, dX: 503, y2: 140, base: 3.6},
  pct: [543, 256.7], pctText: 'Current percentile: 42%'
});

tsChart({
  left: 52.7, right: 393.3, top: 430.7, bottom: 572.3, yDomain: [-2.5, 2],
  data: financials, bands: finBands, median: finMedian, latest: finLatest,
  title: 'Financials group positioning', titleX: 206.7, titleY: 411.7, titleSize: 12,
  subX: 207.5, subY: 425, subSize: 10.5, tickFont: 10.5, xFont: 10, legFont: 10, pctFont: 9.5,
  seriesName: 'Financials', bandName: '10th/90th percentile',
  legend: {lineX: [60, 85], y1: 430, textX: 87.3, pX: [241.7, 266.7], pTextX: 269.3, dX: 72.3, y2: 446.7, base: 3.6},
  pct: [227.3, 565.7], pctText: 'Current percentile: 42%'
});

tsChart({
  left: 486.7, right: 827.3, top: 430, bottom: 577.3, yDomain: [-2, 2],
  data: energy, bands: enBands, median: enMedian, latest: enLatest,
  title: 'Energy group positioning', titleX: 644, titleY: 412.7, titleSize: 12,
  subX: 644.7, subY: 424.3, subSize: 10.5, tickFont: 10.5, xFont: 10, legFont: 10, pctFont: 9.5,
  seriesName: 'Energy', bandName: '10th/90th percentile',
  legend: {lineX: [491.3, 516.3], y1: 430, textX: 519.7, pX: [658, 683.3], pTextX: 686.3, dX: 503.3, y2: 445.7, base: 3.6},
  pct: [679.7, 572.3], pctText: 'Current percentile: 40%'
});

tsChart({
  left: 52.7, right: 393.3, top: 729.3, bottom: 886.7, yDomain: [-2.5, 2.5],
  data: consumerCyc, bands: ccBands, median: ccMedian, latest: ccLatest,
  title: 'Consumer cyclicals positioning', titleX: 210, titleY: 721.7, titleSize: 12,
  subX: 212.7, subY: 735, subSize: 10.5, tickFont: 10.5, xFont: 10, legFont: 10, pctFont: 9.5,
  seriesName: 'Consumer cyclicals', bandName: '10th/90th percentile',
  legend: {lineX: [60, 85], y1: 742.7, textX: 87.3, pX: [236.7, 261.7], pTextX: 264.3, dX: 70.7, y2: 759.3, base: 3.6},
  pct: [137.3, 870], pctText: 'Current percentile: 62%'
});

tsChart({
  serif: true,
  left: 486.7, right: 827.3, top: 745.7, bottom: 881.3, yDomain: [-2, 2],
  data: industrialCyc, bands: icBands, median: icMedian, latest: icLatest,
  title: 'Industrial cyclicals positioning', titleX: 640.7, titleY: 722.3, titleSize: 13.5,
  subX: 641, subY: 734, subSize: 11, tickFont: 11, xFont: 10.5, legFont: 11, pctFont: 11,
  seriesName: 'Industrial cyclicals', bandName: '10th/90th percentile',
  legend: {lineX: [506.7, 532.3], y1: 741, textX: 534.7, pX: [693.3, 719], pTextX: 721.3, dX: 519, y2: 753.3, base: 3.8},
  pct: [583.3, 881.7], pctText: 'Current percentile: 49%'
});
</script>
</body></html>
